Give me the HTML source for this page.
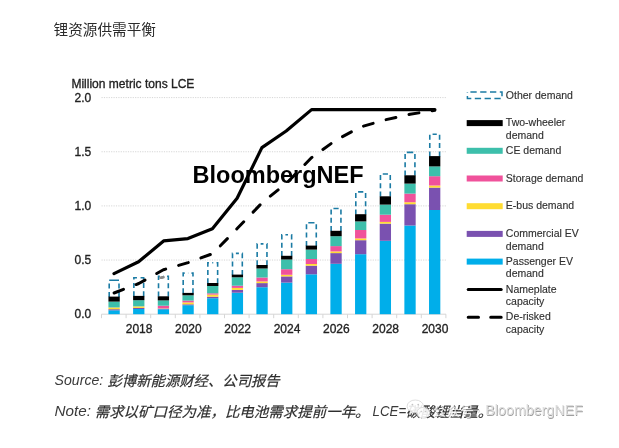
<!DOCTYPE html>
<html lang="zh"><head><meta charset="utf-8"><title>锂资源供需平衡</title>
<style>
html,body{margin:0;padding:0;background:#fff}
body{width:619px;height:448px;overflow:hidden;position:relative;font-family:"Liberation Sans",sans-serif}
svg{position:absolute;left:0;top:0;display:block;filter:blur(.45px)}
svg text{font-family:"Liberation Sans",sans-serif}
svg text.cj{font-family:"Liberation Sans","Noto Sans CJK SC",sans-serif}
.ax{font-size:12px;fill:#222;stroke:#222;stroke-width:.32px}
.lg{font-size:10.5px;fill:#303030;stroke:#303030;stroke-width:.14px}
.ft{font-size:14px;font-style:italic;fill:#3a3a3a}
.cjk{position:absolute;margin:0;color:transparent;white-space:nowrap;font-family:"Liberation Sans",sans-serif;line-height:1;overflow:hidden}
</style></head><body>
<svg width="619" height="448" viewBox="0 0 619 448">
<rect width="619" height="448" fill="#fff"/>
<text class="cj" x="53.5" y="34.7" font-size="14.65" fill="#2b2b2b" textLength="102.5" lengthAdjust="spacingAndGlyphs">锂资源供需平衡</text>
<g id="chart">
<text class="ax" x="71.4" y="87.5" textLength="123" lengthAdjust="spacingAndGlyphs">Million metric tons LCE</text>
<text class="ax" x="74.6" y="318.40" textLength="16.68" lengthAdjust="spacingAndGlyphs">0.0</text>
<line x1="101.5" x2="447" y1="260.05" y2="260.05" stroke="#d6d6d6" stroke-width="1" stroke-dasharray="1.2 1.2"/>
<text class="ax" x="74.6" y="264.25" textLength="16.68" lengthAdjust="spacingAndGlyphs">0.5</text>
<line x1="101.5" x2="447" y1="205.90" y2="205.90" stroke="#d6d6d6" stroke-width="1" stroke-dasharray="1.2 1.2"/>
<text class="ax" x="74.6" y="210.10" textLength="16.68" lengthAdjust="spacingAndGlyphs">1.0</text>
<line x1="101.5" x2="447" y1="151.75" y2="151.75" stroke="#d6d6d6" stroke-width="1" stroke-dasharray="1.2 1.2"/>
<text class="ax" x="74.6" y="155.95" textLength="16.68" lengthAdjust="spacingAndGlyphs">1.5</text>
<line x1="101.5" x2="447" y1="97.60" y2="97.60" stroke="#d6d6d6" stroke-width="1" stroke-dasharray="1.2 1.2"/>
<text class="ax" x="74.6" y="101.80" textLength="16.68" lengthAdjust="spacingAndGlyphs">2.0</text>
<path d="M101.5 314.2 H446" stroke="#d6d6d6" stroke-width="1" fill="none"/>
<path d="M101.50 314.2 v4M126.10 314.2 v4M150.70 314.2 v4M175.30 314.2 v4M199.90 314.2 v4M224.50 314.2 v4M249.10 314.2 v4M273.70 314.2 v4M298.30 314.2 v4M322.90 314.2 v4M347.50 314.2 v4M372.10 314.2 v4M396.70 314.2 v4M421.30 314.2 v4M445.90 314.2 v4" stroke="#d6d6d6" stroke-width="1" fill="none"/>
<text class="ax" x="139.06" y="332.80" text-anchor="middle" textLength="26.70" lengthAdjust="spacingAndGlyphs">2018</text>
<text class="ax" x="188.38" y="332.80" text-anchor="middle" textLength="26.70" lengthAdjust="spacingAndGlyphs">2020</text>
<text class="ax" x="237.7" y="332.80" text-anchor="middle" textLength="26.70" lengthAdjust="spacingAndGlyphs">2022</text>
<text class="ax" x="287.02" y="332.80" text-anchor="middle" textLength="26.70" lengthAdjust="spacingAndGlyphs">2024</text>
<text class="ax" x="336.34" y="332.80" text-anchor="middle" textLength="26.70" lengthAdjust="spacingAndGlyphs">2026</text>
<text class="ax" x="385.66" y="332.80" text-anchor="middle" textLength="26.70" lengthAdjust="spacingAndGlyphs">2028</text>
<text class="ax" x="434.98" y="332.80" text-anchor="middle" textLength="26.70" lengthAdjust="spacingAndGlyphs">2030</text>
<path d="M109.20 296.90V280.30H114.10M119.00 296.90V280.30H114.10" fill="none" stroke="#1B7BA4" stroke-width="1.6" stroke-dasharray="5 3.3"/>
<rect x="108.45" y="310.30" width="11.3" height="3.90" fill="#00AEEA"/>
<rect x="108.45" y="309.20" width="11.3" height="1.10" fill="#7A51B0"/>
<rect x="108.45" y="307.50" width="11.3" height="1.70" fill="#FFDC32"/>
<rect x="108.45" y="307.40" width="11.3" height="0.10" fill="#F0529B"/>
<rect x="108.45" y="301.60" width="11.3" height="5.80" fill="#3DBFAB"/>
<rect x="108.45" y="296.60" width="11.3" height="5.00" fill="#000000"/>
<path d="M133.86 296.20V277.70H138.76M143.66 296.20V277.70H138.76" fill="none" stroke="#1B7BA4" stroke-width="1.6" stroke-dasharray="5 3.3"/>
<rect x="133.11" y="309.00" width="11.3" height="5.20" fill="#00AEEA"/>
<rect x="133.11" y="307.90" width="11.3" height="1.10" fill="#7A51B0"/>
<rect x="133.11" y="306.40" width="11.3" height="1.50" fill="#FFDC32"/>
<rect x="133.11" y="306.30" width="11.3" height="0.10" fill="#F0529B"/>
<rect x="133.11" y="300.20" width="11.3" height="6.10" fill="#3DBFAB"/>
<rect x="133.11" y="295.90" width="11.3" height="4.30" fill="#000000"/>
<path d="M158.52 296.60V276.30H163.42M168.32 296.60V276.30H163.42" fill="none" stroke="#1B7BA4" stroke-width="1.6" stroke-dasharray="5 3.3"/>
<rect x="157.77" y="309.20" width="11.3" height="5.00" fill="#00AEEA"/>
<rect x="157.77" y="308.60" width="11.3" height="0.60" fill="#7A51B0"/>
<rect x="157.77" y="308.30" width="11.3" height="0.30" fill="#FFDC32"/>
<rect x="157.77" y="305.70" width="11.3" height="2.60" fill="#F0529B"/>
<rect x="157.77" y="300.40" width="11.3" height="5.30" fill="#3DBFAB"/>
<rect x="157.77" y="296.30" width="11.3" height="4.10" fill="#000000"/>
<path d="M183.18 293.20V273.10H188.08M192.98 293.20V273.10H188.08" fill="none" stroke="#1B7BA4" stroke-width="1.6" stroke-dasharray="5 3.3"/>
<rect x="182.43" y="305.20" width="11.3" height="9.00" fill="#00AEEA"/>
<rect x="182.43" y="304.30" width="11.3" height="0.90" fill="#7A51B0"/>
<rect x="182.43" y="302.40" width="11.3" height="1.90" fill="#FFDC32"/>
<rect x="182.43" y="300.60" width="11.3" height="1.80" fill="#F0529B"/>
<rect x="182.43" y="295.30" width="11.3" height="5.30" fill="#3DBFAB"/>
<rect x="182.43" y="292.90" width="11.3" height="2.40" fill="#000000"/>
<path d="M207.84 283.30V262.80H212.74M217.64 283.30V262.80H212.74" fill="none" stroke="#1B7BA4" stroke-width="1.6" stroke-dasharray="5 3.3"/>
<rect x="207.09" y="298.20" width="11.3" height="16.00" fill="#00AEEA"/>
<rect x="207.09" y="296.70" width="11.3" height="1.50" fill="#7A51B0"/>
<rect x="207.09" y="294.60" width="11.3" height="2.10" fill="#FFDC32"/>
<rect x="207.09" y="293.30" width="11.3" height="1.30" fill="#F0529B"/>
<rect x="207.09" y="286.00" width="11.3" height="7.30" fill="#3DBFAB"/>
<rect x="207.09" y="283.00" width="11.3" height="3.00" fill="#000000"/>
<path d="M232.50 274.90V253.40H237.40M242.30 274.90V253.40H237.40" fill="none" stroke="#1B7BA4" stroke-width="1.6" stroke-dasharray="5 3.3"/>
<rect x="231.75" y="292.70" width="11.3" height="21.50" fill="#00AEEA"/>
<rect x="231.75" y="289.90" width="11.3" height="2.80" fill="#7A51B0"/>
<rect x="231.75" y="287.90" width="11.3" height="2.00" fill="#FFDC32"/>
<rect x="231.75" y="285.70" width="11.3" height="2.20" fill="#F0529B"/>
<rect x="231.75" y="277.30" width="11.3" height="8.40" fill="#3DBFAB"/>
<rect x="231.75" y="274.60" width="11.3" height="2.70" fill="#000000"/>
<path d="M257.16 265.30V243.90H262.06M266.96 265.30V243.90H262.06" fill="none" stroke="#1B7BA4" stroke-width="1.6" stroke-dasharray="5 3.3"/>
<rect x="256.41" y="287.20" width="11.3" height="27.00" fill="#00AEEA"/>
<rect x="256.41" y="283.10" width="11.3" height="4.10" fill="#7A51B0"/>
<rect x="256.41" y="281.40" width="11.3" height="1.70" fill="#FFDC32"/>
<rect x="256.41" y="277.50" width="11.3" height="3.90" fill="#F0529B"/>
<rect x="256.41" y="268.50" width="11.3" height="9.00" fill="#3DBFAB"/>
<rect x="256.41" y="265.00" width="11.3" height="3.50" fill="#000000"/>
<path d="M281.82 256.10V234.80H286.72M291.62 256.10V234.80H286.72" fill="none" stroke="#1B7BA4" stroke-width="1.6" stroke-dasharray="5 3.3"/>
<rect x="281.07" y="282.60" width="11.3" height="31.60" fill="#00AEEA"/>
<rect x="281.07" y="276.40" width="11.3" height="6.20" fill="#7A51B0"/>
<rect x="281.07" y="274.80" width="11.3" height="1.60" fill="#FFDC32"/>
<rect x="281.07" y="269.20" width="11.3" height="5.60" fill="#F0529B"/>
<rect x="281.07" y="259.50" width="11.3" height="9.70" fill="#3DBFAB"/>
<rect x="281.07" y="255.80" width="11.3" height="3.70" fill="#000000"/>
<path d="M306.48 245.90V222.80H311.38M316.28 245.90V222.80H311.38" fill="none" stroke="#1B7BA4" stroke-width="1.6" stroke-dasharray="5 3.3"/>
<rect x="305.73" y="274.30" width="11.3" height="39.90" fill="#00AEEA"/>
<rect x="305.73" y="265.70" width="11.3" height="8.60" fill="#7A51B0"/>
<rect x="305.73" y="264.00" width="11.3" height="1.70" fill="#FFDC32"/>
<rect x="305.73" y="259.00" width="11.3" height="5.00" fill="#F0529B"/>
<rect x="305.73" y="249.60" width="11.3" height="9.40" fill="#3DBFAB"/>
<rect x="305.73" y="245.60" width="11.3" height="4.00" fill="#000000"/>
<path d="M331.14 231.10V208.50H336.04M340.94 231.10V208.50H336.04" fill="none" stroke="#1B7BA4" stroke-width="1.6" stroke-dasharray="5 3.3"/>
<rect x="330.39" y="263.80" width="11.3" height="50.40" fill="#00AEEA"/>
<rect x="330.39" y="253.10" width="11.3" height="10.70" fill="#7A51B0"/>
<rect x="330.39" y="251.40" width="11.3" height="1.70" fill="#FFDC32"/>
<rect x="330.39" y="246.10" width="11.3" height="5.30" fill="#F0529B"/>
<rect x="330.39" y="236.20" width="11.3" height="9.90" fill="#3DBFAB"/>
<rect x="330.39" y="230.80" width="11.3" height="5.40" fill="#000000"/>
<path d="M355.80 214.50V191.90H360.70M365.60 214.50V191.90H360.70" fill="none" stroke="#1B7BA4" stroke-width="1.6" stroke-dasharray="5 3.3"/>
<rect x="355.05" y="254.20" width="11.3" height="60.00" fill="#00AEEA"/>
<rect x="355.05" y="240.20" width="11.3" height="14.00" fill="#7A51B0"/>
<rect x="355.05" y="238.40" width="11.3" height="1.80" fill="#FFDC32"/>
<rect x="355.05" y="230.00" width="11.3" height="8.40" fill="#F0529B"/>
<rect x="355.05" y="221.40" width="11.3" height="8.60" fill="#3DBFAB"/>
<rect x="355.05" y="214.20" width="11.3" height="7.20" fill="#000000"/>
<path d="M380.46 196.60V174.00H385.36M390.26 196.60V174.00H385.36" fill="none" stroke="#1B7BA4" stroke-width="1.6" stroke-dasharray="5 3.3"/>
<rect x="379.71" y="240.80" width="11.3" height="73.40" fill="#00AEEA"/>
<rect x="379.71" y="223.60" width="11.3" height="17.20" fill="#7A51B0"/>
<rect x="379.71" y="221.90" width="11.3" height="1.70" fill="#FFDC32"/>
<rect x="379.71" y="214.70" width="11.3" height="7.20" fill="#F0529B"/>
<rect x="379.71" y="204.60" width="11.3" height="10.10" fill="#3DBFAB"/>
<rect x="379.71" y="196.30" width="11.3" height="8.30" fill="#000000"/>
<path d="M405.12 175.60V152.40H410.02M414.92 175.60V152.40H410.02" fill="none" stroke="#1B7BA4" stroke-width="1.6" stroke-dasharray="5 3.3"/>
<rect x="404.37" y="225.50" width="11.3" height="88.70" fill="#00AEEA"/>
<rect x="404.37" y="204.20" width="11.3" height="21.30" fill="#7A51B0"/>
<rect x="404.37" y="202.20" width="11.3" height="2.00" fill="#FFDC32"/>
<rect x="404.37" y="193.60" width="11.3" height="8.60" fill="#F0529B"/>
<rect x="404.37" y="183.60" width="11.3" height="10.00" fill="#3DBFAB"/>
<rect x="404.37" y="175.30" width="11.3" height="8.30" fill="#000000"/>
<path d="M429.78 156.40V134.30H434.68M439.58 156.40V134.30H434.68" fill="none" stroke="#1B7BA4" stroke-width="1.6" stroke-dasharray="5 3.3"/>
<rect x="429.03" y="210.00" width="11.3" height="104.20" fill="#00AEEA"/>
<rect x="429.03" y="187.60" width="11.3" height="22.40" fill="#7A51B0"/>
<rect x="429.03" y="185.50" width="11.3" height="2.10" fill="#FFDC32"/>
<rect x="429.03" y="176.20" width="11.3" height="9.30" fill="#F0529B"/>
<rect x="429.03" y="166.40" width="11.3" height="9.80" fill="#3DBFAB"/>
<rect x="429.03" y="156.10" width="11.3" height="10.30" fill="#000000"/>
<polyline fill="none" stroke="#000" stroke-width="3.2" stroke-linecap="round" stroke-linejoin="round" points="114.0,273.6 138.6,261.8 163.6,240.9 187.9,238.6 212.4,228.7 237.1,198.3 261.9,147.6 286.2,131.0 311.6,109.6 434.9,109.6"/>
<polyline fill="none" stroke="#000" stroke-width="3" stroke-linecap="round" stroke-linejoin="round" stroke-dasharray="10 13.5" points="114.1,293.0 138.8,283.5 163.4,269.8 188.1,262.6 212.8,253.6 237.4,228.3 262.1,202.8 286.7,183.0 311.4,157.8 336.1,140.0 360.7,127.0 385.4,119.8 410.0,114.3 434.7,110.3"/>
<text x="192.6" y="182.8" font-size="23.5" font-weight="bold" fill="#000" textLength="171" lengthAdjust="spacingAndGlyphs">BloombergNEF</text>
<ellipse cx="162" cy="277.5" rx="3" ry="1.4" fill="#8a8a8a" transform="rotate(-8 162 277.5)"/>
<rect x="467.4" y="92.10" width="34.60" height="6.3" fill="none" stroke="#1B7BA4" stroke-width="1.5" stroke-dasharray="6.3 3.5" stroke-dashoffset="-3"/>
<text class="lg" x="505.8" y="98.60" textLength="67.12" lengthAdjust="spacingAndGlyphs">Other demand</text>
<rect x="466.7" y="120.10" width="36.0" height="6" fill="#000000"/>
<text class="lg" x="505.8" y="126.30" textLength="59.52" lengthAdjust="spacingAndGlyphs">Two-wheeler</text>
<text class="lg" x="505.8" y="138.70" textLength="37.95" lengthAdjust="spacingAndGlyphs">demand</text>
<rect x="466.7" y="147.80" width="36.0" height="6" fill="#3DBFAB"/>
<text class="lg" x="505.8" y="154.00" textLength="55.45" lengthAdjust="spacingAndGlyphs">CE demand</text>
<rect x="466.7" y="175.50" width="36.0" height="6" fill="#F0529B"/>
<text class="lg" x="505.8" y="181.70" textLength="77.64" lengthAdjust="spacingAndGlyphs">Storage demand</text>
<rect x="466.7" y="203.20" width="36.0" height="6" fill="#FFDC32"/>
<text class="lg" x="505.8" y="209.40" textLength="68.29" lengthAdjust="spacingAndGlyphs">E-bus demand</text>
<rect x="466.7" y="230.90" width="36.0" height="6" fill="#7A51B0"/>
<text class="lg" x="505.8" y="237.10" textLength="72.93" lengthAdjust="spacingAndGlyphs">Commercial EV</text>
<text class="lg" x="505.8" y="249.50" textLength="37.95" lengthAdjust="spacingAndGlyphs">demand</text>
<rect x="466.7" y="258.60" width="36.0" height="6" fill="#00AEEA"/>
<text class="lg" x="505.8" y="264.80" textLength="67.12" lengthAdjust="spacingAndGlyphs">Passenger EV</text>
<text class="lg" x="505.8" y="277.20" textLength="37.95" lengthAdjust="spacingAndGlyphs">demand</text>
<line x1="468.2" x2="501.2" y1="289.50" y2="289.50" stroke="#000" stroke-width="3" stroke-linecap="round"/>
<text class="lg" x="505.8" y="292.50" textLength="50.78" lengthAdjust="spacingAndGlyphs">Nameplate</text><text class="lg" x="505.8" y="304.90" textLength="38.52" lengthAdjust="spacingAndGlyphs">capacity</text>
<path d="M468.2 317.20 H478.5 M490.7 317.20 H501.2" stroke="#000" stroke-width="3" stroke-linecap="round" fill="none"/>
<text class="lg" x="505.8" y="320.20" textLength="44.93" lengthAdjust="spacingAndGlyphs">De-risked</text><text class="lg" x="505.8" y="332.60" textLength="38.52" lengthAdjust="spacingAndGlyphs">capacity</text>
</g>
<text class="ft" x="54.6" y="384.8" textLength="48.6" lengthAdjust="spacingAndGlyphs">Source:</text>
<text class="cj" x="107.5" y="385.8" font-size="14.3" font-style="italic" fill="#2e2e2e" stroke="#2e2e2e" stroke-width="0.2" textLength="172.2" lengthAdjust="spacingAndGlyphs">彭博新能源财经、公司报告</text>
<text class="ft" x="54.6" y="416.3" textLength="36.4" lengthAdjust="spacingAndGlyphs">Note:</text>
<text class="cj" x="94.7" y="417.3" font-size="14.3" font-style="italic" fill="#2e2e2e" stroke="#2e2e2e" stroke-width="0.2" textLength="274.9" lengthAdjust="spacingAndGlyphs">需求以矿口径为准，比电池需求提前一年。</text>
<text class="ft" x="372.6" y="416.3" textLength="33.6" lengthAdjust="spacingAndGlyphs">LCE=</text>
<text class="cj" x="406.1" y="417.3" font-size="14.3" font-style="italic" fill="#2e2e2e" stroke="#2e2e2e" stroke-width="0.2" textLength="86.1" lengthAdjust="spacingAndGlyphs">碳酸锂当量。</text>
<g id="wm">
<ellipse cx="415.3" cy="406.3" rx="8.2" ry="6.3" fill="#fff" fill-opacity="0.88" stroke="#d6d6d6" stroke-width="0.8"/>
<path d="M410.5 411.2 l-1.4 3 3.6-1.6z" fill="#fff" stroke="#cfcfcf" stroke-width="0.6"/>
<ellipse cx="423.3" cy="412.8" rx="6.4" ry="5.4" fill="#fff" fill-opacity="0.88" stroke="#d6d6d6" stroke-width="0.8"/>
<circle cx="412.4" cy="404.6" r="0.9" fill="#c4c4c4"/><circle cx="418.2" cy="404.6" r="0.9" fill="#c4c4c4"/>
<circle cx="421.2" cy="411.6" r="0.75" fill="#c4c4c4"/><circle cx="425.6" cy="411.6" r="0.75" fill="#c4c4c4"/>
<g opacity="0.55">
<text class="cj" x="432.9" y="416.6" font-size="13.6" fill="#8c8c8c" textLength="41.7" lengthAdjust="spacingAndGlyphs">公众号</text>
</g><g opacity="0.8">
<text class="cj" x="432.2" y="415.9" font-size="13.6" fill="#ffffff" textLength="41.7" lengthAdjust="spacingAndGlyphs">公众号</text>
</g>
<circle cx="478.6" cy="411.2" r="1.1" fill="#fff" stroke="#bdbdbd" stroke-width="0.5"/>
<text x="485.9" y="415.8" font-size="14.3" fill="#9e9e9e" textLength="97.7" lengthAdjust="spacingAndGlyphs">BloombergNEF</text>
<text x="485.3" y="415.2" font-size="14.3" fill="#dedede" textLength="97.7" lengthAdjust="spacingAndGlyphs">BloombergNEF</text>
</g>
</svg>
<h1 class="cjk" style="left:53px;top:20px;font-size:14.65px;font-weight:normal;width:104px;height:17px">锂资源供需平衡</h1>
<p class="cjk" style="left:108px;top:372px;font-size:14.3px;font-style:italic;width:176px;height:16px">彭博新能源财经、公司报告</p>
<p class="cjk" style="left:95px;top:403px;font-size:14.3px;font-style:italic;width:400px;height:16px">需求以矿口径为准，比电池需求提前一年。LCE=碳酸锂当量。</p>
</body></html>
